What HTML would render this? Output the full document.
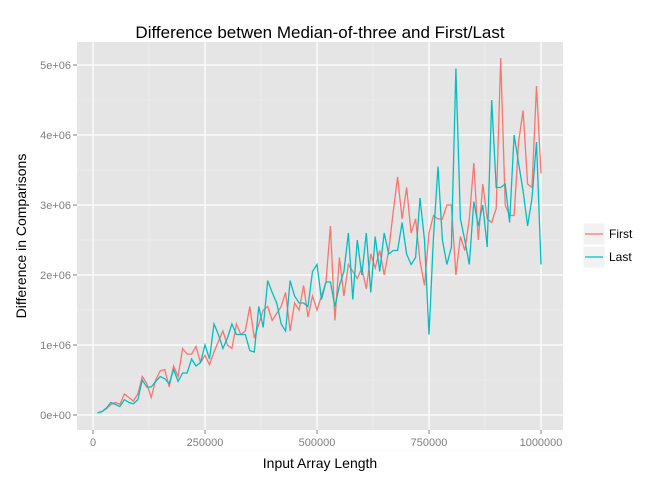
<!DOCTYPE html>
<html><head><meta charset="utf-8"><style>body{margin:0;background:#fff}svg{font-family:"Liberation Sans",sans-serif}</style></head>
<body>
<svg id="c" width="672" height="480"></svg>
<script>
const xs=[];for(let i=1;i<=100;i++)xs.push(i*10000);
const firstVals=[0.03,0.05,0.09,0.15,0.18,0.15,0.3,0.25,0.2,0.3,
0.55,0.45,0.25,0.5,0.63,0.65,0.4,0.7,0.55,0.95,
0.87,0.87,0.98,0.75,0.85,0.72,0.9,1.05,1.2,1.0,
0.95,1.3,1.15,1.2,1.55,1.1,1.3,1.5,1.55,1.35,
1.45,1.55,1.75,1.2,1.6,1.5,1.85,1.4,1.7,1.5,
1.7,1.9,2.7,1.35,2.25,1.7,2.15,2.05,1.95,2.1,
1.8,2.3,2.1,2.35,2.0,2.35,2.9,3.4,2.8,3.25,
2.6,2.8,2.2,1.85,2.6,2.85,2.8,2.8,3.0,3.0,
2.0,2.55,2.35,2.8,3.6,2.5,3.3,2.8,2.75,2.95,
5.1,3.0,2.85,2.85,3.9,4.35,3.3,3.25,4.7,3.45];
const lastVals=[0.03,0.05,0.1,0.18,0.15,0.12,0.22,0.18,0.16,0.22,
0.5,0.4,0.4,0.48,0.55,0.52,0.45,0.65,0.48,0.6,
0.6,0.8,0.7,0.75,1.0,0.8,1.3,1.15,0.95,1.1,
1.3,1.15,1.15,1.15,0.92,0.9,1.55,1.25,1.92,1.75,
1.6,1.3,1.2,1.92,1.7,1.6,1.6,1.55,2.05,2.15,
1.65,1.9,1.9,1.55,1.85,2.05,2.6,1.65,2.5,2.0,
2.6,1.75,2.55,2.05,2.6,2.3,2.35,2.35,2.75,2.3,
2.15,2.25,3.1,2.5,1.15,2.55,3.55,2.5,2.15,2.4,
4.95,2.8,2.5,2.15,3.05,2.7,3.0,2.4,4.5,3.25,
3.25,3.3,2.75,4.0,3.6,3.2,2.7,3.1,3.9,2.15];
const xTicks=[0,250000,500000,750000,1000000];
const xTickLabels=["0","250000","500000","750000","1000000"];
const yTicks=[0,1,2,3,4,5];
const yTickLabels=["0e+00","1e+06","2e+06","3e+06","4e+06","5e+06"];
const ns="http://www.w3.org/2000/svg",svg=document.getElementById('c');
const X=v=>93+v*(448/1000000), Y=v=>415-v*70;
function el(t,a,txt){const e=document.createElementNS(ns,t);for(const k in a)e.setAttribute(k,a[k]);if(txt!=null)e.textContent=txt;svg.appendChild(e);return e;}
const p=el('rect',{x:77,y:42,width:486,height:388,fill:'#e5e5e5'});

for(let i=0;i<xTicks.length-1;i++){const m=(xTicks[i]+xTicks[i+1])/2;const g=el('line',{x1:X(m),x2:X(m),y1:42,y2:430,stroke:'#f2f2f2','stroke-width':0.6});}
for(let i=0;i<yTicks.length;i++){const m=yTicks[i]+0.5;if(Y(m)>42){const g=el('line',{x1:77,x2:563,y1:Y(m),y2:Y(m),stroke:'#f2f2f2','stroke-width':0.6});}}
const gm=el('line',{x1:77,x2:563,y1:Y(-0.5),y2:Y(-0.5),stroke:'#f2f2f2','stroke-width':0.6});
xTicks.forEach((t,i)=>{const g=el('line',{x1:X(t),x2:X(t),y1:42,y2:430,stroke:'#fff','stroke-width':1.2});
el('line',{x1:X(t),x2:X(t),y1:430,y2:434,stroke:'#7f7f7f'});
const l=el('text',{x:X(t),y:446,'text-anchor':'middle','font-size':11,fill:'#7f7f7f'},xTickLabels[i]);});
yTicks.forEach((t,i)=>{const g=el('line',{x1:77,x2:563,y1:Y(t),y2:Y(t),stroke:'#fff','stroke-width':1.2});
el('line',{x1:73,x2:77,y1:Y(t),y2:Y(t),stroke:'#7f7f7f'});
const l=el('text',{x:71,y:Y(t)+4,'text-anchor':'end','font-size':11,fill:'#7f7f7f'},yTickLabels[i]);});
function line(vals,col,name){const d=vals.map((v,i)=>(i?'L':'M')+X(xs[i]).toFixed(1)+','+Y(v).toFixed(1)).join('');const e=el('path',{d:d,fill:'none',stroke:col,'stroke-width':1.3});}
line(firstVals,'#f8766d','series-first');
line(lastVals,'#00bfc4','series-last');
const t=el('text',{x:320,y:38,'text-anchor':'middle','font-size':17},'Difference betwen Median-of-three and First/Last');
const xt=el('text',{x:320,y:468,'text-anchor':'middle','font-size':14},'Input Array Length');
const yt=el('text',{x:26,y:236,'text-anchor':'middle','font-size':14,transform:'rotate(-90 26 236)'},'Difference in Comparisons');
[['First','#f8766d',234],['Last','#00bfc4',257]].forEach(([n,c,y])=>{const b=el('rect',{x:583,y:y-11,width:22,height:22,fill:'#f2f2f2',stroke:'#fff'});
el('line',{x1:585,x2:603,y1:y,y2:y,stroke:c,'stroke-width':1.3});
const l=el('text',{x:609,y:y+4,'font-size':12},n);});
</script>
</body></html>
